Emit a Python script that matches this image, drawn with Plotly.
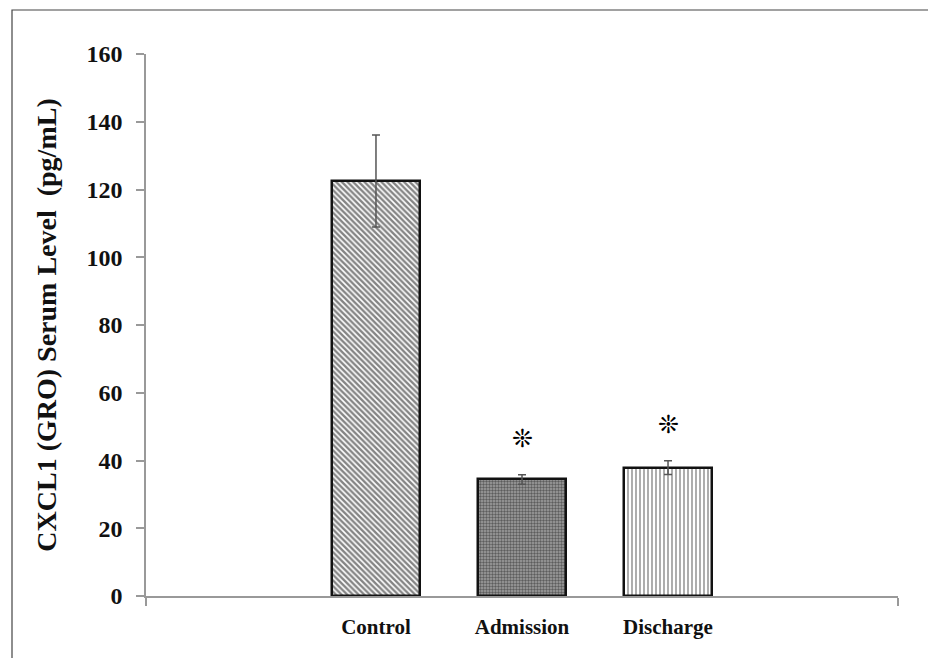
import plotly.graph_objects as go

categories = ["Control", "Admission", "Discharge"]
means = [122.5, 34.4, 37.9]
errors = [13.6, 1.4, 2.0]
significant = [False, True, True]
y_ticks = [0, 20, 40, 60, 80, 100, 120, 140, 160]

x_pos = list(range(len(categories)))
patterns = [
    dict(shape="\\", size=4, solidity=0.6, fgcolor="#0a0a0a", bgcolor="white", fillmode="overlay"),
    dict(shape=".", size=3, solidity=0.5, fgcolor="#1a1a1a", bgcolor="#a0a0a0", fillmode="overlay"),
    dict(shape="|", size=4, solidity=0.32, fgcolor="#000000", bgcolor="white", fillmode="overlay"),
]

# page has an 8px body margin; figure sized so the plot lands where the reference has it
W, H = 928, 650
L, R, T, B = 138, 38, 46, 62
pw, ph = W - L - R, H - T - B

fig = go.Figure()
for i, c in enumerate(categories):
    fig.add_trace(go.Bar(
        x=[x_pos[i]], y=[means[i]], width=0.603,
        marker=dict(color="white", pattern=patterns[i],
                    line=dict(color="#111111", width=2.5)),
        error_y=dict(type="data", array=[errors[i]], visible=True,
                     color="#555555", thickness=1.5, width=4),
        showlegend=False, name=c,
    ))

for i, s in enumerate(significant):
    if s:
        fig.add_annotation(x=x_pos[i], y=means[i] + errors[i], yshift=36,
                           text="<b>❊</b>", showarrow=False, yanchor="middle",
                           font=dict(family="DejaVu Sans", size=25, color="#000000"))

font_serif = "Liberation Serif, Times New Roman, serif"
fig.update_layout(
    width=W, height=H,
    margin=dict(l=L, r=R, t=T, b=B),
    paper_bgcolor="white", plot_bgcolor="white",
    font=dict(family=font_serif, color="#111111"),
    bargap=0,
    xaxis=dict(
        range=[-1.575, 3.575], tickvals=x_pos, ticktext=["<b>%s</b>" % c for c in categories],
        ticks="", showgrid=False, zeroline=False,
        showline=True, linecolor="#999999", linewidth=1.5,
        tickfont=dict(family=font_serif, size=21, color="#111111"),
        ticklabelstandoff=11,
        minor=dict(tickvals=[-1.575, 3.575], ticks="outside", ticklen=8, tickcolor="#999999", tickwidth=1.5),
    ),
    yaxis=dict(
        range=[0, 160], tickvals=y_ticks, ticktext=["<b>%d</b>" % v for v in y_ticks],
        ticks="outside", ticklen=8, tickcolor="#999999", tickwidth=1.5,
        showgrid=False, zeroline=False,
        showline=True, linecolor="#999999", linewidth=1.5,
        tickfont=dict(family=font_serif, size=24, color="#111111"),
        ticklabelstandoff=9,
        title=dict(text="<b>CXCL1 (GRO) Serum Level&nbsp; (pg/mL)</b>",
                   font=dict(family=font_serif, size=28, color="#111111"), standoff=22),
    ),
)

fig.add_shape(type="rect", xref="paper", yref="paper",
              x0=(4 - L) / pw, x1=(924 - L) / pw,
              y0=(H - B - 680) / ph, y1=(H - B - 2) / ph,
              line=dict(color="#444444", width=1.2), fillcolor="rgba(0,0,0,0)", layer="below")

fig.write_html("out.html")
